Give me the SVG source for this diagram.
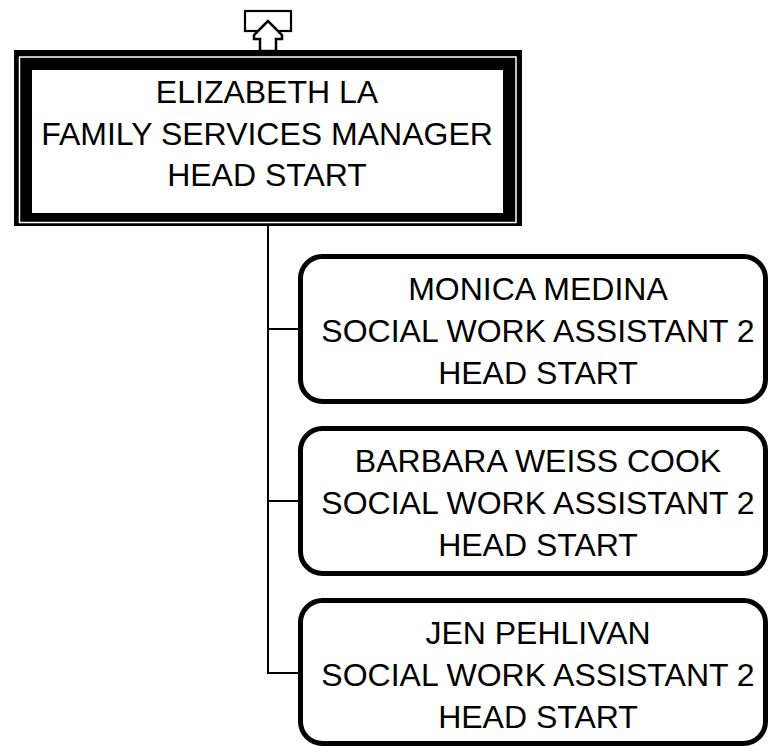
<svg xmlns="http://www.w3.org/2000/svg" width="768" height="746" viewBox="0 0 768 746">
<style>
  text { font-family: "Liberation Sans", Arial, sans-serif; font-size: 32px; fill: #000; text-anchor: middle; }
  .conn { stroke: #000; stroke-width: 2; fill: none; }
  .child { fill: #fff; stroke: #000; stroke-width: 5; }
</style>
<rect width="768" height="746" fill="#fff"/>
<g id="connectors">
  <path class="conn" d="M268,225 V673 H300 M268,329 H300 M268,501 H300"/>
</g>
<g id="up-arrow">
  <rect x="245" y="11" width="46" height="20" fill="#fff" stroke="#000" stroke-width="2.2"/>
  <polygon points="268,21 254,35 254,39 260,39 260,51 276,51 276,39 282,39 282,35" fill="#fff" stroke="#000" stroke-width="2.5" stroke-linejoin="miter"/>
</g>
<g id="node-elizabeth">
  <rect x="14" y="50" width="508" height="176" fill="#000"/>
  <rect x="19.5" y="57" width="496.5" height="165.5" fill="none" stroke="#fff" stroke-width="1.5"/>
  <rect x="32" y="70" width="471" height="143" fill="#fff"/>
  <text x="267" y="103">ELIZABETH LA</text>
  <text x="267" y="145">FAMILY SERVICES MANAGER</text>
  <text x="267" y="186">HEAD START</text>
</g>
<g id="node-monica">
  <rect class="child" x="300.5" y="256.5" width="465" height="145" rx="22"/>
  <text x="538" y="300">MONICA MEDINA</text>
  <text x="538" y="342">SOCIAL WORK ASSISTANT 2</text>
  <text x="538" y="384">HEAD START</text>
</g>
<g id="node-barbara">
  <rect class="child" x="300.5" y="428.5" width="465" height="145" rx="22"/>
  <text x="538" y="472">BARBARA WEISS COOK</text>
  <text x="538" y="514">SOCIAL WORK ASSISTANT 2</text>
  <text x="538" y="556">HEAD START</text>
</g>
<g id="node-jen">
  <rect class="child" x="300.5" y="600.5" width="465" height="143" rx="22"/>
  <text x="538" y="644">JEN PEHLIVAN</text>
  <text x="538" y="686">SOCIAL WORK ASSISTANT 2</text>
  <text x="538" y="728">HEAD START</text>
</g>
</svg>
